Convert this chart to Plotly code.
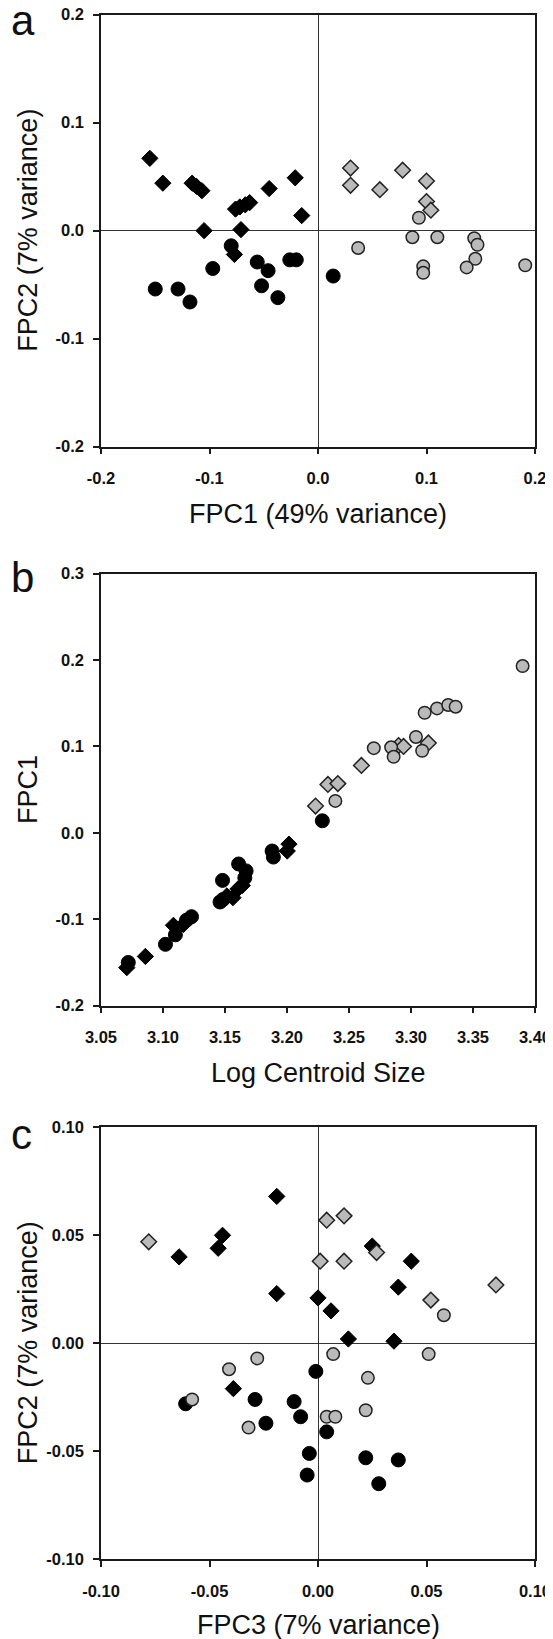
import plotly.graph_objects as go
from plotly.subplots import make_subplots

# page body keeps its default 8px margin, so the figure is laid out 8px in
PAGE_W, PAGE_H, BODY = 553, 1639, 8
W, H = PAGE_W - BODY, PAGE_H - BODY
FONT = "Liberation Sans, Arial, sans-serif"
GREY = "#bababa"
EDGE = "#222222"

# ---- panel a: FPC1 vs FPC2 ----
a_bd_x = [-0.155, -0.143, -0.116, -0.112, -0.107, -0.045, -0.021, -0.015, -0.076, -0.072, -0.067, -0.063, -0.105, -0.071, -0.077]
a_bd_y = [0.067, 0.044, 0.044, 0.041, 0.037, 0.039, 0.049, 0.014, 0.020, 0.022, 0.024, 0.026, 0.000, 0.001, -0.022]
a_bc_x = [-0.080, -0.097, -0.056, -0.046, -0.052, -0.037, -0.150, -0.129, -0.118, -0.026, -0.020, 0.014]
a_bc_y = [-0.014, -0.035, -0.029, -0.037, -0.051, -0.062, -0.054, -0.054, -0.066, -0.027, -0.027, -0.042]
a_gd_x = [0.030, 0.030, 0.057, 0.078, 0.100, 0.100, 0.104]
a_gd_y = [0.058, 0.042, 0.038, 0.056, 0.046, 0.027, 0.019]
a_gc_x = [0.093, 0.087, 0.110, 0.037, 0.144, 0.147, 0.145, 0.137, 0.097, 0.097, 0.191]
a_gc_y = [0.012, -0.006, -0.006, -0.016, -0.007, -0.013, -0.026, -0.034, -0.033, -0.039, -0.032]

# ---- panel b: log centroid size vs FPC1 ----
b_bd_x = [3.2016, 3.2002, 3.1604, 3.1564, 3.1639, 3.1515, 3.1084, 3.1165, 3.0858, 3.0708]
b_bd_y = [-0.013, -0.021, -0.065, -0.075, -0.061, -0.073, -0.107, -0.106, -0.143, -0.156]
b_bc_x = [3.2285, 3.188, 3.189, 3.161, 3.167, 3.166, 3.148, 3.146, 3.1485, 3.123, 3.119, 3.110, 3.102, 3.072]
b_bc_y = [0.014, -0.021, -0.028, -0.036, -0.044, -0.052, -0.055, -0.080, -0.077, -0.097, -0.101, -0.118, -0.129, -0.150]
b_gd_x = [3.314, 3.290, 3.294, 3.260, 3.233, 3.241, 3.223]
b_gd_y = [0.104, 0.101, 0.100, 0.078, 0.056, 0.057, 0.031]
b_gc_x = [3.311, 3.321, 3.330, 3.336, 3.304, 3.309, 3.284, 3.286, 3.270, 3.239, 3.390]
b_gc_y = [0.139, 0.144, 0.148, 0.146, 0.111, 0.095, 0.099, 0.088, 0.098, 0.037, 0.193]

# ---- panel c: FPC3 vs FPC2 ----
c_bd_x = [-0.064, -0.044, -0.046, -0.019, -0.019, -0.039, 0.025, 0.043, 0.037, 0.000, 0.006, 0.014, 0.035]
c_bd_y = [0.040, 0.050, 0.044, 0.068, 0.023, -0.021, 0.045, 0.038, 0.026, 0.021, 0.015, 0.002, 0.001]
c_bc_x = [-0.061, -0.029, -0.024, -0.011, -0.008, -0.001, 0.004, -0.004, -0.005, 0.022, 0.037, 0.028]
c_bc_y = [-0.028, -0.026, -0.037, -0.027, -0.034, -0.013, -0.041, -0.051, -0.061, -0.053, -0.054, -0.065]
c_gd_x = [-0.078, 0.004, 0.012, 0.001, 0.012, 0.027, 0.052, 0.082]
c_gd_y = [0.047, 0.057, 0.059, 0.038, 0.038, 0.042, 0.020, 0.027]
c_gc_x = [-0.028, -0.041, -0.058, -0.032, 0.058, 0.007, 0.051, 0.023, 0.022, 0.004, 0.008]
c_gc_y = [-0.007, -0.012, -0.026, -0.039, 0.013, -0.005, -0.005, -0.016, -0.031, -0.034, -0.034]

# tick labels
a_ticks = [-0.2, -0.1, 0.0, 0.1, 0.2]
a_labels = ["-0.2", "-0.1", "0.0", "0.1", "0.2"]
b_xticks = [3.05, 3.10, 3.15, 3.20, 3.25, 3.30, 3.35, 3.40]
b_xlabels = ["3.05", "3.10", "3.15", "3.20", "3.25", "3.30", "3.35", "3.40"]
b_yticks = [-0.2, -0.1, 0.0, 0.1, 0.2, 0.3]
b_ylabels = ["-0.2", "-0.1", "0.0", "0.1", "0.2", "0.3"]
c_ticks = [-0.10, -0.05, 0.00, 0.05, 0.10]
c_labels = ["-0.10", "-0.05", "0.00", "0.05", "0.10"]


def px_x(p):
    # page pixel -> paper fraction
    return (p - BODY) / W


def px_y(p):
    return 1 - (p - BODY) / H


STYLES = {
    "bd": dict(symbol="diamond", size=12.5, color="black", line=dict(width=1, color="black")),
    "bc": dict(symbol="circle", size=14, color="black", line=dict(width=1, color="black")),
    "gd": dict(symbol="diamond", size=12, color=GREY, line=dict(width=1.5, color=EDGE)),
    "gc": dict(symbol="circle", size=12.5, color=GREY, line=dict(width=1.5, color=EDGE)),
}

fig = make_subplots(rows=3, cols=1)

panels = [
    (1, [("bd", a_bd_x, a_bd_y), ("bc", a_bc_x, a_bc_y), ("gd", a_gd_x, a_gd_y), ("gc", a_gc_x, a_gc_y)]),
    (2, [("bd", b_bd_x, b_bd_y), ("bc", b_bc_x, b_bc_y), ("gd", b_gd_x, b_gd_y), ("gc", b_gc_x, b_gc_y)]),
    (3, [("bd", c_bd_x, c_bd_y), ("bc", c_bc_x, c_bc_y), ("gd", c_gd_x, c_gd_y), ("gc", c_gc_x, c_gc_y)]),
]
for row, groups in panels:
    for key, xs, ys in groups:
        fig.add_trace(
            go.Scatter(x=xs, y=ys, mode="markers", marker=STYLES[key],
                       showlegend=False, cliponaxis=False),
            row=row, col=1,
        )

axis_common = dict(
    showline=True, mirror=True, linecolor="#1a1a1a", linewidth=1.5,
    ticks="outside", ticklen=6, tickwidth=1.5, tickcolor="#1a1a1a",
    showgrid=False, automargin=False, ticklabeloverflow="allow",
    tickfont=dict(family=FONT, size=16.5, color="#111", weight="bold"),
)

xdom = [px_x(101), px_x(535)]
ydoms = [
    [px_y(446.7), px_y(14.7)],
    [px_y(1005.7), px_y(573.6)],
    [px_y(1559.3), px_y(1127.3)],
]

fig.update_xaxes(**axis_common, domain=xdom, ticklabelstandoff=10)
fig.update_yaxes(**axis_common, ticklabelstandoff=6)

zl = dict(zeroline=True, zerolinecolor="#333", zerolinewidth=1.2)
fig.update_xaxes(range=[-0.2, 0.2], tickvals=a_ticks, ticktext=a_labels, **zl, row=1, col=1)
fig.update_yaxes(range=[-0.2, 0.2], tickvals=a_ticks, ticktext=a_labels, domain=ydoms[0], **zl, row=1, col=1)
fig.update_xaxes(range=[3.05, 3.40], tickvals=b_xticks, ticktext=b_xlabels, zeroline=False, row=2, col=1)
fig.update_yaxes(range=[-0.2, 0.3], tickvals=b_yticks, ticktext=b_ylabels, domain=ydoms[1],
                 zeroline=False, row=2, col=1)
fig.update_xaxes(range=[-0.1, 0.1], tickvals=c_ticks, ticktext=c_labels, **zl, row=3, col=1)
fig.update_yaxes(range=[-0.1, 0.1], tickvals=c_ticks, ticktext=c_labels, domain=ydoms[2], **zl, row=3, col=1)

title_font = dict(family=FONT, size=27, color="#111")
letter_font = dict(family=FONT, size=42, color="#111")
notes = []
x_titles = [("FPC1 (49% variance)", 514), ("Log Centroid Size", 1072.5), ("FPC3 (7% variance)", 1624.5)]
for text, ypix in x_titles:
    notes.append(dict(text=text, x=px_x(318), y=px_y(ypix), xref="paper", yref="paper",
                      xanchor="center", yanchor="middle", showarrow=False, font=title_font))
y_titles = [("FPC2 (7% variance)", 230.7), ("FPC1", 790), ("FPC2 (7% variance)", 1343.3)]
for text, ypix in y_titles:
    notes.append(dict(text=text, x=px_x(28), y=px_y(ypix), xref="paper", yref="paper",
                      xanchor="center", yanchor="middle", textangle=-90, showarrow=False,
                      font=title_font))
letters = [("a", 20.5), ("b", 577), ("c", 1134)]
for text, ypix in letters:
    notes.append(dict(text=text, x=px_x(9), y=px_y(ypix), xref="paper", yref="paper",
                      xanchor="left", yanchor="middle", showarrow=False, font=letter_font))

fig.update_layout(
    width=W, height=H,
    margin=dict(l=0, r=0, t=0, b=0),
    paper_bgcolor="white", plot_bgcolor="white",
    annotations=notes,
    font=dict(family=FONT),
)

fig.write_html("out.html")
